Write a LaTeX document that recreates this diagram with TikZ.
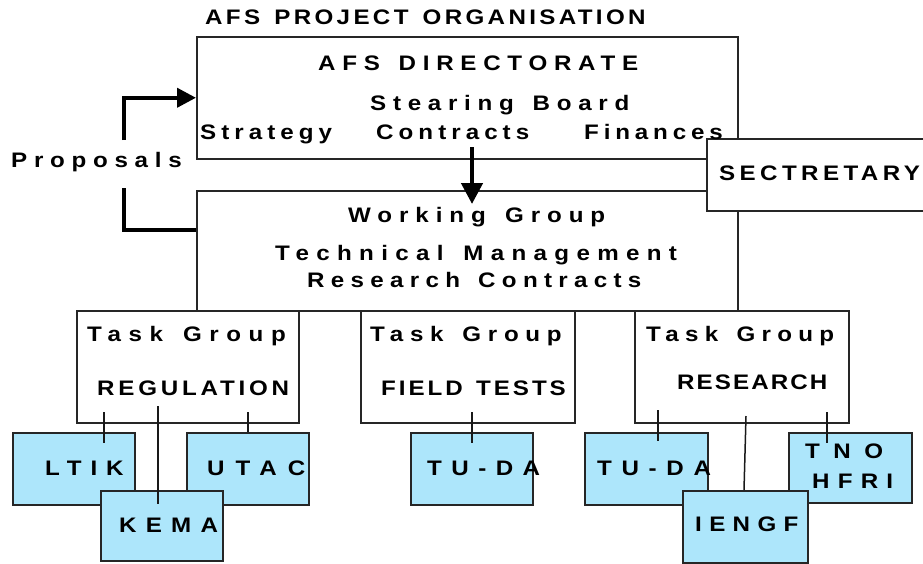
\documentclass[tikz,border=0pt]{standalone}
\usepackage{fontspec}
\setmainfont{Liberation Sans}[WordSpace=1.4, FakeStretch=1.15]
\usetikzlibrary{arrows.meta}
\definecolor{leafblue}{HTML}{ADE6FB}
\newcommand\lsp[2]{{\addfontfeatures{LetterSpace=#1}#2}}
\tikzset{
  box/.style={draw=black!85, line width=1.5pt, fill=white, anchor=north west, inner sep=0pt},
  leaf/.style={draw=black!85, line width=1.5pt, fill=leafblue, anchor=north west, inner sep=0pt},
  lbl/.style={anchor=base west, inner sep=0pt, font=\fontsize{21}{25}\selectfont\bfseries},
  conn/.style={line width=1.5pt, draw=black!90},
  bigarrow/.style={line width=4.5pt, -{Triangle[length=21pt,width=21pt]}},
  proparrow/.style={line width=4pt, -{Triangle[length=19pt,width=19pt]}},
  propline/.style={line width=4pt},
}
\begin{document}
\begin{tikzpicture}[x=1pt,y=-1pt]
\useasboundingbox (0,0) rectangle (923,563);
% main boxes
\node[box, minimum width=541pt, minimum height=122pt] (dir) at (196,36) {};
\node[box, minimum width=541pt, minimum height=120pt] (wg) at (196,190) {};
\node[box, minimum width=235pt, minimum height=72pt] (sec) at (706,138) {};
% task groups
\node[box, minimum width=222pt, minimum height=112pt] (tg1) at (76,310) {};
\node[box, minimum width=214pt, minimum height=112pt] (tg2) at (360,310) {};
\node[box, minimum width=214pt, minimum height=112pt] (tg3) at (634,310) {};
% leaves
\node[leaf, minimum width=122pt, minimum height=72pt] (ltikb) at (12,432) {};
\node[leaf, minimum width=122pt, minimum height=72pt] (utacb) at (186,432) {};
\node[leaf, minimum width=122pt, minimum height=70pt] (kemab) at (100,490) {};
\node[leaf, minimum width=122pt, minimum height=72pt] (tuda1b) at (410,432) {};
\node[leaf, minimum width=123pt, minimum height=72pt] (tuda2b) at (584,432) {};
\node[leaf, minimum width=123pt, minimum height=70pt] (tnob) at (788,432) {};
\node[leaf, minimum width=125pt, minimum height=72pt] (iengfb) at (682,490) {};
% texts
\node[lbl] (title) at (205,24) {\lsp{16}{AFS PROJECT ORGANISATION}};
\node[lbl] (dirt) at (318,70) {\lsp{32}{AFS DIRECTORATE}};
\node[lbl] (stear) at (370,110) {\lsp{32}{Stearing Board}};
\node[lbl] (strat) at (200,139.5) {\lsp{24}{Strategy}};
\node[lbl] (contr) at (376,139.5) {\lsp{24}{Contracts}};
\node[lbl] (fin) at (584,139.5) {\lsp{23}{Finances}};
\node[lbl] (prop) at (11,167) {\lsp{32}{Proposals}};
\node[lbl] (sect) at (719,180) {\lsp{21}{SECTRETARY}};
\node[lbl] (work) at (348,222.7) {\lsp{33}{Working Group}};
\node[lbl] (tech) at (275,260.7) {\lsp{35}{Technical Management}};
\node[lbl] (resc) at (307,287.3) {\lsp{30}{Research Contracts}};
\node[lbl] (tg1t) at (87,341.7) {\lsp{36}{Task Group}};
\node[lbl] (reg) at (97,395) {\lsp{18}{REGULATION}};
\node[lbl] (tg2t) at (370,341.7) {\lsp{32}{Task Group}};
\node[lbl] (field) at (381,395) {\lsp{14}{FIELD TESTS}};
\node[lbl] (tg3t) at (646,341.7) {\lsp{30}{Task Group}};
\node[lbl] (res) at (677,389) {\lsp{10}{RESEARCH}};
\node[lbl] (ltik) at (45,475) {\lsp{42}{LTIK}};
\node[lbl] (utac) at (207,475) {\lsp{52}{UTAC}};
\node[lbl] (kema) at (119,532) {\lsp{44}{KEMA}};
\node[lbl] (tuda1) at (427,475) {\lsp{45}{TU-DA}};
\node[lbl] (tuda2) at (597,475) {\lsp{46}{TU-DA}};
\node[lbl] (iengf) at (695,531) {\lsp{35}{IENGF}};
\node[lbl] (tno) at (805,458) {\lsp{64}{TNO}};
\node[lbl] (hfri) at (812,488) {\lsp{39}{HFRI}};
% connector points
\coordinate (c1a) at (104,412); \coordinate (c1b) at (104,443);
\coordinate (c2a) at (158,406); \coordinate (c2b) at (158,504);
\coordinate (c3a) at (248,412);
\coordinate (c4a) at (472,412); \coordinate (c4b) at (472,443);
\coordinate (c5a) at (658,410); \coordinate (c5b) at (658,441);
\coordinate (c6a) at (746,416); \coordinate (c6b) at (744,490);
\coordinate (c7a) at (827,412); \coordinate (c7b) at (827,443);
\draw[conn] (c1a) -- (c1b);
\draw[conn] (c2a) -- (c2b);
\draw[conn] (c3a) -- (c3a |- utacb.north);
\draw[conn] (c4a) -- (c4b);
\draw[conn] (c5a) -- (c5b);
\draw[conn] (c6a) -- (c6b);
\draw[conn] (c7a) -- (c7b);
% big arrow
\coordinate (ba) at (472,147); \coordinate (bb) at (472,204);
\draw[bigarrow] (ba) -- (bb);
% proposals
\coordinate (p1) at (124,140);
\draw[proparrow] (p1) |- (dir.west);
\coordinate (p2) at (124,188); \coordinate (p2e) at (196,230);
\draw[propline] (p2) |- (p2e);
\end{tikzpicture}
\end{document}
